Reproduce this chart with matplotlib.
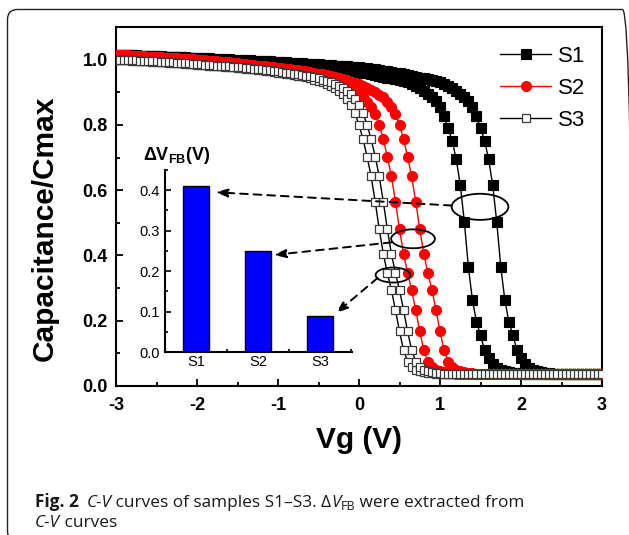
import numpy as np
import matplotlib
matplotlib.use("Agg")
import matplotlib.pyplot as plt
from matplotlib.patches import Ellipse, FancyBboxPatch, ConnectionPatch
from matplotlib.transforms import IdentityTransform
from matplotlib.ticker import MultipleLocator, FormatStrFormatter

plt.rcParams['font.family'] = ['Liberation Sans', 'DejaVu Sans']
plt.rcParams['axes.unicode_minus'] = False
plt.rcParams['mathtext.fontset'] = 'custom'
plt.rcParams['mathtext.rm'] = 'Liberation Sans'
plt.rcParams['mathtext.bf'] = 'Liberation Sans:bold'
plt.rcParams['mathtext.it'] = 'Liberation Sans:italic'

# ---------------- data ----------------
# gate-voltage sweep (V), 0.05 V steps from -3 to 3
vg = np.round(np.linspace(-3.0, 3.0, 121), 2)

# S1, lower-voltage branch
s1_a = [1.015, 1.014, 1.014, 1.013, 1.013, 1.012, 1.012, 1.011, 1.011, 1.010, 1.010, 1.009, 1.009, 1.008, 1.008, 1.007, 1.007, 1.006, 1.006, 1.005,
        1.004, 1.003, 1.002, 1.001, 1.000, 0.999, 0.998, 0.997, 0.997, 0.996, 0.995, 0.995, 0.994, 0.993, 0.993, 0.992, 0.991, 0.991, 0.990, 0.989,
        0.988, 0.987, 0.986, 0.985, 0.984, 0.983, 0.982, 0.981, 0.980, 0.979, 0.978, 0.977, 0.976, 0.975, 0.973, 0.972, 0.970, 0.968, 0.966, 0.964,
        0.962, 0.960, 0.958, 0.956, 0.953, 0.951, 0.948, 0.945, 0.943, 0.940, 0.937, 0.934, 0.930, 0.925, 0.919, 0.912, 0.904, 0.895, 0.886, 0.873,
        0.855, 0.826, 0.790, 0.752, 0.695, 0.617, 0.504, 0.366, 0.264, 0.197, 0.156, 0.110, 0.085, 0.067, 0.056, 0.049, 0.045, 0.042, 0.040, 0.039,
        0.038, 0.038, 0.038, 0.038, 0.038, 0.038, 0.038, 0.037, 0.037, 0.037, 0.037, 0.037, 0.037, 0.037, 0.037, 0.037, 0.037, 0.037, 0.037, 0.037,
        0.037]
# S1, higher-voltage branch
s1_b = [1.015, 1.015, 1.014, 1.014, 1.013, 1.013, 1.012, 1.012, 1.011, 1.011, 1.010, 1.010, 1.009, 1.009, 1.008, 1.008, 1.007, 1.007, 1.006, 1.006,
        1.005, 1.005, 1.004, 1.004, 1.003, 1.003, 1.002, 1.002, 1.001, 1.000, 1.000, 0.999, 0.999, 0.998, 0.997, 0.997, 0.996, 0.995, 0.995, 0.994,
        0.993, 0.993, 0.992, 0.991, 0.991, 0.990, 0.989, 0.988, 0.988, 0.987, 0.986, 0.985, 0.984, 0.983, 0.982, 0.981, 0.980, 0.979, 0.978, 0.977,
        0.976, 0.975, 0.973, 0.972, 0.970, 0.968, 0.966, 0.964, 0.962, 0.960, 0.958, 0.956, 0.953, 0.951, 0.948, 0.945, 0.943, 0.940, 0.937, 0.934,
        0.930, 0.925, 0.919, 0.912, 0.904, 0.895, 0.886, 0.873, 0.855, 0.826, 0.790, 0.752, 0.695, 0.617, 0.504, 0.366, 0.264, 0.197, 0.156, 0.110,
        0.085, 0.067, 0.056, 0.049, 0.045, 0.042, 0.040, 0.039, 0.038, 0.038, 0.038, 0.038, 0.038, 0.038, 0.038, 0.037, 0.037, 0.037, 0.037, 0.037,
        0.037]
# S2, lower-voltage branch
s2_a = [1.015, 1.014, 1.013, 1.012, 1.011, 1.010, 1.010, 1.009, 1.008, 1.007, 1.007, 1.006, 1.005, 1.004, 1.004, 1.003, 1.002, 1.002, 1.001, 1.000,
        0.999, 0.998, 0.996, 0.995, 0.994, 0.992, 0.991, 0.989, 0.988, 0.987, 0.985, 0.984, 0.982, 0.981, 0.979, 0.977, 0.975, 0.973, 0.971, 0.969,
        0.968, 0.966, 0.964, 0.962, 0.959, 0.957, 0.955, 0.952, 0.950, 0.947, 0.944, 0.941, 0.937, 0.933, 0.929, 0.925, 0.920, 0.914, 0.908, 0.901,
        0.893, 0.884, 0.871, 0.855, 0.832, 0.800, 0.756, 0.703, 0.642, 0.565, 0.480, 0.405, 0.346, 0.294, 0.233, 0.167, 0.110, 0.075, 0.058, 0.050,
        0.045, 0.042, 0.040, 0.039, 0.038, 0.038, 0.038, 0.038, 0.038, 0.038, 0.038, 0.038, 0.038, 0.038, 0.038, 0.038, 0.038, 0.038, 0.038, 0.038,
        0.038, 0.038, 0.038, 0.038, 0.038, 0.037, 0.037, 0.037, 0.037, 0.037, 0.037, 0.037, 0.037, 0.037, 0.037, 0.037, 0.037, 0.037, 0.037, 0.037,
        0.037]
# S2, higher-voltage branch
s2_b = [1.015, 1.014, 1.013, 1.013, 1.012, 1.011, 1.010, 1.010, 1.009, 1.008, 1.007, 1.007, 1.006, 1.005, 1.004, 1.004, 1.003, 1.002, 1.002, 1.001,
        1.000, 0.999, 0.998, 0.997, 0.996, 0.995, 0.994, 0.993, 0.992, 0.991, 0.989, 0.988, 0.987, 0.985, 0.984, 0.982, 0.981, 0.979, 0.978, 0.976,
        0.975, 0.974, 0.972, 0.971, 0.969, 0.968, 0.966, 0.964, 0.962, 0.959, 0.957, 0.955, 0.952, 0.950, 0.947, 0.944, 0.941, 0.937, 0.933, 0.929,
        0.925, 0.920, 0.914, 0.908, 0.901, 0.893, 0.884, 0.871, 0.855, 0.832, 0.800, 0.756, 0.703, 0.642, 0.565, 0.480, 0.405, 0.346, 0.294, 0.233,
        0.167, 0.110, 0.075, 0.058, 0.050, 0.045, 0.042, 0.040, 0.039, 0.038, 0.038, 0.038, 0.038, 0.038, 0.038, 0.038, 0.038, 0.038, 0.038, 0.038,
        0.038, 0.038, 0.038, 0.038, 0.038, 0.037, 0.037, 0.037, 0.037, 0.037, 0.037, 0.037, 0.037, 0.037, 0.037, 0.037, 0.037, 0.037, 0.037, 0.037,
        0.037]
# S3, lower-voltage branch
s3_a = [1.000, 0.999, 0.999, 0.998, 0.997, 0.997, 0.996, 0.995, 0.995, 0.994, 0.993, 0.993, 0.992, 0.991, 0.990, 0.990, 0.989, 0.988, 0.987, 0.986,
        0.985, 0.984, 0.983, 0.982, 0.981, 0.980, 0.979, 0.978, 0.977, 0.976, 0.975, 0.974, 0.972, 0.971, 0.970, 0.969, 0.967, 0.966, 0.964, 0.962,
        0.960, 0.958, 0.957, 0.955, 0.953, 0.951, 0.949, 0.946, 0.943, 0.939, 0.935, 0.930, 0.925, 0.919, 0.912, 0.904, 0.894, 0.880, 0.862, 0.836,
        0.800, 0.756, 0.703, 0.642, 0.565, 0.480, 0.405, 0.346, 0.294, 0.233, 0.167, 0.110, 0.075, 0.058, 0.050, 0.045, 0.042, 0.040, 0.039, 0.038,
        0.038, 0.038, 0.038, 0.038, 0.038, 0.038, 0.038, 0.038, 0.038, 0.038, 0.038, 0.038, 0.038, 0.038, 0.038, 0.038, 0.038, 0.038, 0.038, 0.038,
        0.038, 0.038, 0.038, 0.038, 0.038, 0.038, 0.038, 0.038, 0.038, 0.038, 0.038, 0.038, 0.038, 0.038, 0.038, 0.038, 0.038, 0.038, 0.038, 0.038,
        0.038]
# S3, higher-voltage branch
s3_b = [1.000, 1.000, 1.000, 0.999, 0.999, 0.998, 0.997, 0.997, 0.996, 0.995, 0.995, 0.994, 0.993, 0.993, 0.992, 0.991, 0.990, 0.990, 0.989, 0.988,
        0.987, 0.986, 0.985, 0.984, 0.983, 0.982, 0.981, 0.980, 0.979, 0.978, 0.977, 0.976, 0.975, 0.974, 0.972, 0.971, 0.970, 0.969, 0.967, 0.966,
        0.964, 0.962, 0.960, 0.958, 0.957, 0.955, 0.953, 0.951, 0.949, 0.946, 0.943, 0.939, 0.935, 0.930, 0.925, 0.919, 0.912, 0.904, 0.894, 0.880,
        0.862, 0.836, 0.800, 0.756, 0.703, 0.642, 0.565, 0.480, 0.405, 0.346, 0.294, 0.233, 0.167, 0.110, 0.075, 0.058, 0.050, 0.045, 0.042, 0.040,
        0.039, 0.038, 0.038, 0.038, 0.038, 0.038, 0.038, 0.038, 0.038, 0.038, 0.038, 0.038, 0.038, 0.038, 0.038, 0.038, 0.038, 0.038, 0.038, 0.038,
        0.038, 0.038, 0.038, 0.038, 0.038, 0.038, 0.038, 0.038, 0.038, 0.038, 0.038, 0.038, 0.038, 0.038, 0.038, 0.038, 0.038, 0.038, 0.038, 0.038,
        0.038]

samples = ['S1', 'S2', 'S3']
dvfb = [0.41, 0.25, 0.09]          # flat-band voltage shift (V)
xticks_main = [-3, -2, -1, 0, 1, 2, 3]
yticks_main = [0.0, 0.2, 0.4, 0.6, 0.8, 1.0]
yticks_inset = [0.0, 0.1, 0.2, 0.3, 0.4]

# ---------------- figure ----------------
W, H = 629, 535
fig = plt.figure(figsize=(W / 100, H / 100), dpi=100)

def fx(px):
    return px / W

def fy(py):
    return 1 - py / H

# rounded frame
frame = FancyBboxPatch((7.5, -6), 625, 531.5, boxstyle='round,pad=0,rounding_size=10',
                       transform=IdentityTransform(), fill=False, ec='#222222', lw=1.0)
fig.add_artist(frame)

ax = fig.add_axes([fx(116), fy(386), fx(602) - fx(116), fy(27) - fy(386)])

styles = {
    'S1': dict(color='black', marker='s', ms=7.0, mfc='black', mec='black', mew=0.8, lw=1.0),
    'S2': dict(color='red', marker='o', ms=7.2, mfc='red', mec='red', mew=0.8, lw=1.0),
    'S3': dict(color='black', marker='s', ms=6.0, mfc='white', mec='#3a3a3a', mew=0.9, lw=1.0),
}
branches = {'S1': (s1_a, s1_b), 'S2': (s2_a, s2_b), 'S3': (s3_a, s3_b)}
for i, name in enumerate(samples):
    a, b = branches[name]
    ax.plot(vg, a, label=name, zorder=2 + i, **styles[name])
    ax.plot(vg, b, zorder=2 + i, **styles[name])

ax.set_xlim(-3, 3)
ax.set_ylim(0, 1.1)
ax.set_xticks(xticks_main)
ax.set_yticks(yticks_main)
ax.xaxis.set_minor_locator(MultipleLocator(0.5))
ax.yaxis.set_minor_locator(MultipleLocator(0.1))
ax.yaxis.set_major_formatter(FormatStrFormatter('%.1f'))
ax.tick_params(which='both', direction='in', top=False, right=False, width=1.3)
ax.tick_params(which='major', length=5)
ax.tick_params(which='minor', length=3)
ax.tick_params(axis='y', pad=6)
ax.tick_params(axis='x', pad=8)
for lab in ax.get_xticklabels() + ax.get_yticklabels():
    lab.set_fontsize(13)
    lab.set_fontweight('bold')
for sp in ax.spines.values():
    sp.set_linewidth(1.5)

fig.text(fx(45), fy(228), 'Capacitance/Cmax', rotation=90, ha='center', va='center',
         fontsize=21.5, fontweight='bold')
fig.text(fx(359), fy(440), 'Vg (V)', ha='center', va='center', fontsize=21.5, fontweight='bold')

leg = ax.legend(loc='upper left', bbox_to_anchor=((500 - 116) / 486, (386 - 46) / 359),
                frameon=False, fontsize=16, numpoints=1, handlelength=2.3,
                handletextpad=0.3, labelspacing=0.5, borderpad=0, borderaxespad=0)

# ellipses marking the flat-band positions
ell_specs = [((1.494, 0.549), 0.70, 0.080),
             ((0.667, 0.451), 0.54, 0.058),
             ((0.420, 0.340), 0.43, 0.046)]
for (c, w, h) in ell_specs:
    ax.add_patch(Ellipse(c, w, h, fill=False, ec='black', lw=1.3, zorder=10))

# inset bar chart
ins = fig.add_axes([fx(165), fy(352), fx(352) - fx(165), fy(170) - fy(352)])
xpos = np.arange(len(samples))
ins.bar(xpos, dvfb, width=0.42, color='#0000ff', edgecolor='black', lw=1.0, zorder=2)
ins.set_xlim(-0.5, 2.52)
ins.set_ylim(0, 0.45)
ins.set_xticks(xpos)
ins.set_xticklabels(samples)
ins.set_yticks(yticks_inset)
ins.yaxis.set_major_formatter(FormatStrFormatter('%.1f'))
ins.xaxis.set_minor_locator(MultipleLocator(0.5))
ins.yaxis.set_minor_locator(MultipleLocator(0.05))
ins.tick_params(which='both', direction='in', width=1.2, labelsize=10.5)
ins.tick_params(which='major', length=4)
ins.tick_params(which='minor', length=2.5)
ins.tick_params(axis='x', pad=2)
ins.tick_params(axis='y', pad=4)
for s in ['top', 'right']:
    ins.spines[s].set_visible(False)
for s in ['left', 'bottom']:
    ins.spines[s].set_linewidth(1.5)

fig.text(fx(143), fy(156), r'$\mathbf{\Delta V}_{\mathbf{FB}}\mathbf{(V)}$', ha='left', va='center',
         fontsize=13)

# dashed arrows from ellipses to bars
arrow_specs = [((1.144, 0.553), (0.32, 0.395)),
               ((0.400, 0.440), (1.26, 0.240)),
               ((0.230, 0.331), (2.26, 0.096))]
for (start, end) in arrow_specs:
    cp = ConnectionPatch(xyA=start, coordsA=ax.transData, xyB=end, coordsB=ins.transData,
                         arrowstyle='-|>,head_length=0.7,head_width=0.25', linestyle=(0, (4, 3)),
                         lw=1.4, color='black', shrinkA=0, shrinkB=0, zorder=20)
    fig.add_artist(cp)

# caption
cap_font = ['Open Sans', 'DejaVu Sans']
renderer = fig.canvas.get_renderer()

def draw_runs(x, y, runs, size):
    for txt, style in runs:
        kw = dict(fontsize=size, family=cap_font, color='#1a1a1a', va='baseline', ha='left')
        yy = y
        if style == 'b':
            kw['fontweight'] = 'bold'
        elif style == 'i':
            kw['style'] = 'italic'
        elif style == 'sub':
            kw['fontsize'] = size * 0.72
            yy = y - 3
        t = fig.text(x, yy, txt, transform=IdentityTransform(), **kw)
        bb = t.get_window_extent(renderer)
        x = bb.x1

cap_size = 12.4
draw_runs(35, H - 507, [('Fig. 2', 'b'), ('\u2009', 'r'), (' ', 'r'), ('C-V', 'i'),
                       (' curves of samples S1\u2013S3. \u0394', 'r'), ('V', 'i'), ('FB', 'sub'),
                       (' were extracted from', 'r')], cap_size)
draw_runs(35, H - 527, [('C-V', 'i'), (' curves', 'r')], cap_size)

fig.savefig('out.png', dpi=100)
